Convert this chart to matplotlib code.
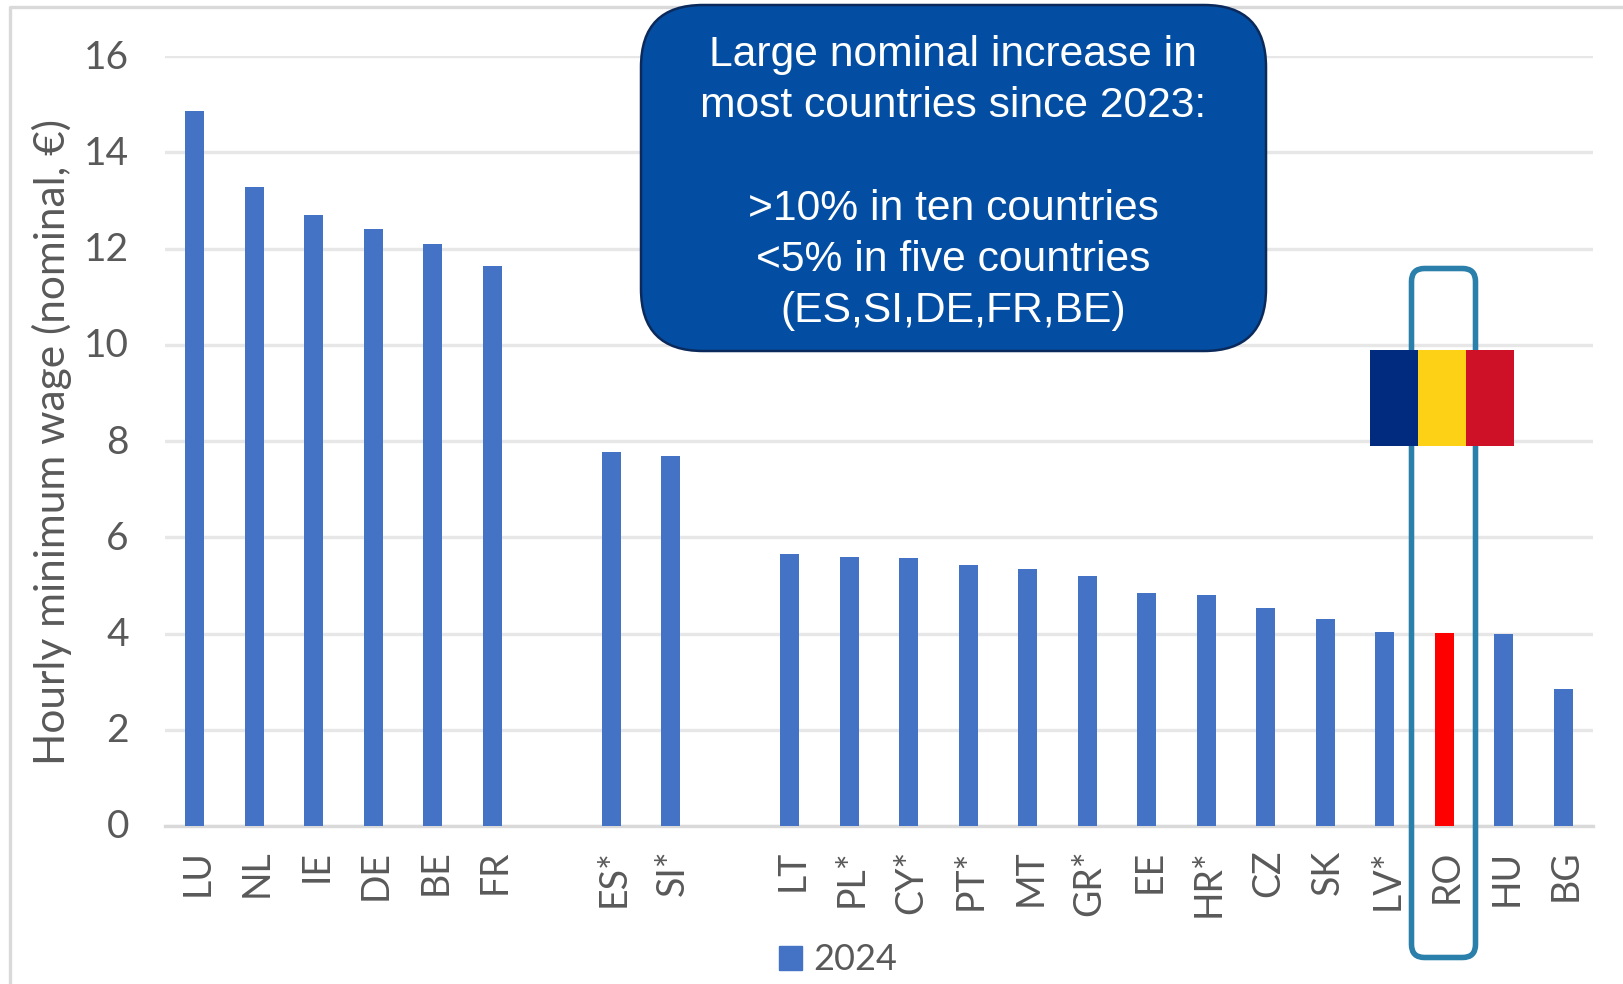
import numpy as np
from matplotlib import pyplot as plt
from matplotlib.patches import FancyBboxPatch, Patch, Rectangle
from matplotlib.transforms import ScaledTranslation

# None leaves an empty slot between the country groups
countries = ["LU", "NL", "IE", "DE", "BE", "FR", "", "ES*", "SI*", "", "LT", "PL*", "CY*", "PT*",
             "MT", "GR*", "EE", "HR*", "CZ", "SK", "LV*", "RO", "HU", "BG"]
wages = [14.86, 13.27, 12.70, 12.41, 12.10, 11.64, None, 7.77, 7.69, None, 5.65, 5.58, 5.56, 5.43,
         5.33, 5.20, 4.85, 4.81, 4.53, 4.30, 4.03, 4.01, 3.99, 2.85]
yTicks = [0, 2, 4, 6, 8, 10, 12, 14, 16]
legendLabel = "2024"
yLabel = "Hourly minimum wage (nominal, \u20ac)"
boxLines = ["Large nominal increase in", "most countries since 2023:", "",
            ">10% in ten countries", "<5% in five countries", "(ES,SI,DE,FR,BE)"]

W, H = 1624, 984
barBlue = "#4472C4"
highlightRed = "#FF0000"
textGrey = "#595959"
gridGrey = "#E7E7E7"
axisGrey = "#D9D9D9"

plt.rcParams["font.family"] = ["Lato", "DejaVu Sans"]

fig = plt.figure(figsize=(W / 100, H / 100), dpi=100)
ax = fig.add_axes([165 / W, 1 - 826 / H, (1593 - 165) / W, (826 - 56) / H])

x = np.arange(len(countries))
heights = [np.nan if v is None else v for v in wages]
colors = [highlightRed if c == "RO" else barBlue for c in countries]
ax.bar(x, heights, width=0.32, color=colors, zorder=3)

ax.set_xlim(-0.5, len(countries) - 0.5)
ax.set_ylim(0, 16)
ax.set_yticks(yTicks)
ax.set_xticks(x)
ax.set_xticklabels(countries, rotation=90, ha="center", va="top")
ax.tick_params(axis="both", length=0, labelcolor=textGrey)
ax.tick_params(axis="x", pad=17, labelsize=27)
ax.tick_params(axis="y", pad=26, labelsize=28)
ax.grid(axis="y", color=gridGrey, linewidth=2.4, zorder=0)
ax.set_axisbelow(True)
for side in ["top", "right", "left"]:
    ax.spines[side].set_visible(False)
ax.spines["bottom"].set_color(axisGrey)
ax.spines["bottom"].set_linewidth(2.4)

# Small nudges so the labels sit centred on their bars and gridlines
for label in ax.get_xticklabels():
    label.set_transform(label.get_transform() + ScaledTranslation(2.5 / 100, 0, fig.dpi_scale_trans))
for label in ax.get_yticklabels():
    label.set_transform(label.get_transform() + ScaledTranslation(0, 2 / 100, fig.dpi_scale_trans))

fig.text(52 / W, 1 - 442 / H, yLabel, rotation=90, ha="center", va="center",
         fontsize=30.6, color=textGrey)

ax.legend(handles=[Patch(color=barBlue, label=legendLabel)], loc="center",
          bbox_to_anchor=(838 / W, 1 - 960 / H), bbox_transform=fig.transFigure,
          frameon=False, fontsize=26, labelcolor=textGrey,
          handlelength=0.64, handleheight=0.64, handletextpad=0.3)

# Overlay in pixel coordinates for the chart frame, callout, outline and flag
over = fig.add_axes([0, 0, 1, 1], zorder=5)
over.set_xlim(0, W)
over.set_ylim(H, 0)
over.axis("off")

over.plot([10, 10, W], [984, 6.5, 6.5], color=axisGrey, linewidth=2.4, zorder=1)

over.add_patch(FancyBboxPatch((1411.5, 268.5), 64, 689, boxstyle="round,pad=0,rounding_size=13",
                              facecolor="none", edgecolor="#2A7FAB", linewidth=4, zorder=2))

flagColors = ["#002B7F", "#FCD116", "#CE1126"]
for i in range(3):
    over.add_patch(Rectangle((1370.5 + i * 47.67, 350), 47.67, 95.5, facecolor=flagColors[i],
                             edgecolor="none", zorder=3))

over.add_patch(FancyBboxPatch((641, 5), 625, 346, boxstyle="round,pad=0,rounding_size=62",
                              facecolor="#034EA2", edgecolor="#0B2A5B", linewidth=1.8, zorder=4))
for i in range(len(boxLines)):
    over.text(953, 55 + i * 51.2, boxLines[i], ha="center", va="center", color="white",
              fontsize=30.7, family=["Liberation Sans", "DejaVu Sans"], zorder=5)

plt.savefig("out.png", dpi=100)
plt.close()
